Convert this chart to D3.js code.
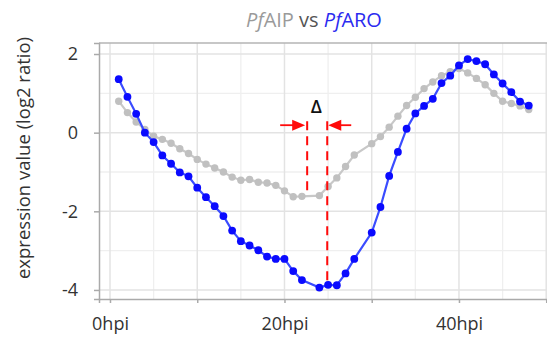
<!DOCTYPE html>
<html>
<head>
<meta charset="utf-8">
<script src="https://cdn.jsdelivr.net/npm/d3@7"></script>
<style>
  html, body { margin: 0; padding: 0; background: #fff; }
  svg { display: block; font-family: "Open Sans", "Noto Sans", sans-serif; }
</style>
</head>
<body>
<svg id="chart" width="547" height="340"></svg>
<script>
// ---- data (hours post infection; 23 and 29 hpi missing) ----
const hours = [1,2,3,4,5,6,7,8,9,10,11,12,13,14,15,16,17,18,19,20,21,22,24,25,26,27,28,30,31,32,33,34,35,36,37,38,39,40,41,42,43,44,45,46,47,48];
const pfAIP = [0.80,0.51,0.27,0.08,-0.09,-0.17,-0.27,-0.41,-0.53,-0.68,-0.80,-0.90,-1.00,-1.13,-1.21,-1.19,-1.26,-1.28,-1.34,-1.48,-1.63,-1.62,-1.60,-1.37,-1.15,-0.86,-0.57,-0.28,-0.10,0.14,0.42,0.69,0.90,1.12,1.29,1.45,1.55,1.63,1.52,1.38,1.22,1.00,0.80,0.74,0.68,0.59];
const pfARO = [1.36,0.91,0.48,0.00,-0.24,-0.58,-0.79,-1.01,-1.11,-1.40,-1.64,-1.87,-2.12,-2.49,-2.76,-2.87,-2.99,-3.15,-3.21,-3.21,-3.52,-3.75,-3.94,-3.87,-3.88,-3.58,-3.21,-2.54,-1.89,-1.10,-0.49,0.10,0.49,0.68,0.86,1.26,1.45,1.71,1.87,1.82,1.74,1.48,1.25,1.03,0.79,0.69];
const xTicks = [0,10,20,30,40,50];
const xTickLabels = ["0hpi","","20hpi","","40hpi",""];
const yTicks = [-4,-2,0,2];
const yTickLabels = ["-4","-2","0","2"];
// delta annotation (data units): dashed markers at the two minima
const deltaX = [22.6, 24.9];
const deltaTop = [0.29, 0.29];
const deltaBottom = [-1.57, -3.78];
const arrowY = 0.19;
const deltaLabel = "Δ";

// ---- layout ----
const W = 547, H = 340;
const margin = {left: 99, top: 43, right: 0, bottom: 41};
const svg = d3.select("#chart");

const x = d3.scaleLinear().domain([-1.26, 50.09]).range([margin.left, W - margin.right]);
const y = d3.scaleLinear().domain([2.28, -4.23]).range([margin.top, H - margin.bottom]);

// grid
const g = svg.append("g");
const minorX = d3.range(5, 50, 10);
const minorY = [1, -1, -3];
g.selectAll(".gminx").data(minorX).join("line")
  .attr("x1", d => x(d)).attr("x2", d => x(d))
  .attr("y1", margin.top).attr("y2", H - margin.bottom)
  .attr("stroke", "#efefef").attr("stroke-width", 1.3);
g.selectAll(".gminy").data(minorY).join("line")
  .attr("x1", margin.left).attr("x2", W)
  .attr("y1", d => y(d)).attr("y2", d => y(d))
  .attr("stroke", "#efefef").attr("stroke-width", 1.3);
g.selectAll(".gmajx").data(xTicks).join("line")
  .attr("x1", d => x(d)).attr("x2", d => x(d))
  .attr("y1", margin.top).attr("y2", H - margin.bottom)
  .attr("stroke", "#e3e3e3").attr("stroke-width", 1.5);
g.selectAll(".gmajy").data(yTicks).join("line")
  .attr("x1", margin.left).attr("x2", W)
  .attr("y1", d => y(d)).attr("y2", d => y(d))
  .attr("stroke", "#e3e3e3").attr("stroke-width", 1.5);

// top border
svg.append("line")
  .attr("x1", margin.left).attr("x2", W)
  .attr("y1", margin.top).attr("y2", margin.top)
  .attr("stroke", "#b4b4b4").attr("stroke-width", 1.5);

// axes
const axisColor = "#aaaaaa";
const xAxis = svg.append("g")
  .attr("transform", `translate(0,${H - margin.bottom})`)
  .call(d3.axisBottom(x).tickValues(xTicks).tickSize(4).tickPadding(14)
    .tickFormat((d, i) => xTickLabels[i]));
const yAxis = svg.append("g")
  .attr("transform", `translate(${margin.left},0)`)
  .call(d3.axisLeft(y).tickValues(yTicks).tickSize(5).tickPadding(16)
    .tickFormat((d, i) => yTickLabels[i]));
[xAxis, yAxis].forEach(a => {
  a.select(".domain").attr("stroke", axisColor).attr("stroke-width", 1.5);
  a.selectAll(".tick line").attr("stroke", axisColor).attr("stroke-width", 1.5);
  a.selectAll(".tick text").attr("fill", "#333").style("font-size", "18px")
    .style("font-family", '"Open Sans", sans-serif');
});

// series
const aip = hours.map((h, i) => [h, pfAIP[i]]);
const aro = hours.map((h, i) => [h, pfARO[i]]);
const line = d3.line().x(d => x(d[0])).y(d => y(d[1]));

svg.append("path").datum(aip).attr("d", line)
  .attr("fill", "none").attr("stroke", "#c8c8c8").attr("stroke-width", 2.2);
svg.append("g").selectAll("circle").data(aip).join("circle")
  .attr("cx", d => x(d[0])).attr("cy", d => y(d[1])).attr("r", 3.7)
  .attr("fill", "#c0c0c0");

svg.append("path").datum(aro).attr("d", line)
  .attr("fill", "none").attr("stroke", "#3a4cff").attr("stroke-width", 2.2);
svg.append("g").selectAll("circle").data(aro).join("circle")
  .attr("cx", d => x(d[0])).attr("cy", d => y(d[1])).attr("r", 3.9)
  .attr("fill", "#0a0aff");

// delta annotation
const red = "#ff0a0a";
svg.append("g").selectAll("line").data(deltaX).join("line")
  .attr("x1", d => x(d)).attr("x2", d => x(d))
  .attr("y1", (d, i) => y(deltaTop[i])).attr("y2", (d, i) => y(deltaBottom[i]))
  .attr("stroke", red).attr("stroke-width", 2).attr("stroke-dasharray", "9,6");

const ay = y(arrowY);
const xl = x(deltaX[0]) - 2, xr = x(deltaX[1]) + 1;
// left arrow pointing right
svg.append("line").attr("x1", xl - 25).attr("x2", xl - 8).attr("y1", ay).attr("y2", ay)
  .attr("stroke", red).attr("stroke-width", 1.8);
svg.append("path")
  .attr("d", `M${xl},${ay} L${xl - 13},${ay - 5.5} L${xl - 13},${ay + 5.5} Z`)
  .attr("fill", red);
// right arrow pointing left
svg.append("line").attr("x1", xr + 8).attr("x2", xr + 23).attr("y1", ay).attr("y2", ay)
  .attr("stroke", red).attr("stroke-width", 1.8);
svg.append("path")
  .attr("d", `M${xr},${ay} L${xr + 13},${ay - 5.5} L${xr + 13},${ay + 5.5} Z`)
  .attr("fill", red);

svg.append("text")
  .attr("x", (x(deltaX[0]) + x(deltaX[1])) / 2 - 1)
  .attr("y", ay - 12.5)
  .attr("text-anchor", "middle")
  .attr("fill", "#111").style("font-size", "18px").style("font-weight", 600)
  .text(deltaLabel);

// title
const title = svg.append("text")
  .attr("x", 314).attr("y", 27).attr("text-anchor", "middle")
  .style("font-size", "20px");
title.append("tspan").attr("fill", "#9a9a9a").style("font-style", "italic").text("Pf");
title.append("tspan").attr("fill", "#9a9a9a").text("AIP");
title.append("tspan").attr("fill", "#555").text(" vs ");
title.append("tspan").attr("fill", "#2b2bf0").style("font-style", "italic").text("Pf");
title.append("tspan").attr("fill", "#2b2bf0").text("ARO");

// y label
svg.append("text")
  .attr("transform", `translate(30,158) rotate(-90)`)
  .attr("text-anchor", "middle")
  .attr("fill", "#333").style("font-size", "18.5px")
  .text("expression value (log2 ratio)");
</script>
</body>
</html>
